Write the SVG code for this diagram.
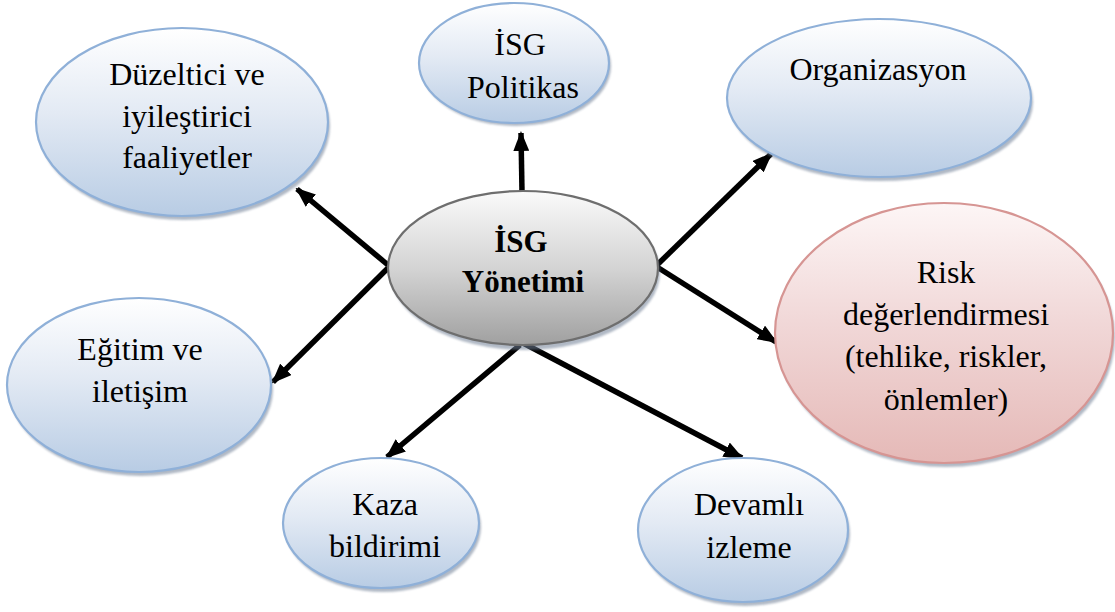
<svg xmlns="http://www.w3.org/2000/svg" width="1115" height="612" viewBox="0 0 1115 612">
  <defs>
    <linearGradient id="gBlue" x1="0" y1="0" x2="0" y2="1">
      <stop offset="0" stop-color="#ffffff"/>
      <stop offset="0.45" stop-color="#e3eaf4"/>
      <stop offset="1" stop-color="#b8cce4"/>
    </linearGradient>
    <linearGradient id="gRed" x1="0" y1="0" x2="0" y2="1">
      <stop offset="0" stop-color="#fdf6f6"/>
      <stop offset="0.45" stop-color="#f1d8d8"/>
      <stop offset="1" stop-color="#e5b9b7"/>
    </linearGradient>
    <linearGradient id="gGray" x1="0" y1="0" x2="0" y2="1">
      <stop offset="0" stop-color="#fafafa"/>
      <stop offset="0.5" stop-color="#d4d4d4"/>
      <stop offset="1" stop-color="#a0a0a0"/>
    </linearGradient>
    <filter id="soft" x="-10%" y="-10%" width="120%" height="130%">
      <feGaussianBlur stdDeviation="1.2"/>
    </filter>
    <marker id="head" viewBox="0 0 20 16" refX="18" refY="8" markerWidth="20" markerHeight="16" markerUnits="userSpaceOnUse" orient="auto">
      <path d="M0,0 L20,8 L0,16 Z" fill="#000"/>
    </marker>
    <style>
      .shadow { fill: #6f7f95; opacity: 0.55; filter: url(#soft); }
      .blue { fill: url(#gBlue); stroke: #8fb0d8; stroke-width: 2.2; }
      .red { fill: url(#gRed); stroke: #d69593; stroke-width: 2.2; }
      .gray { fill: url(#gGray); stroke: #6e6e6e; stroke-width: 2.2; }
      .lbl { font-family: "Liberation Serif", "Times New Roman", serif; font-size: 32px; fill: #000; text-anchor: middle; }
      .bold { font-weight: bold; font-size: 31px; }
      .conn line { stroke: #000; stroke-width: 5.5; marker-end: url(#head); }
    </style>
  </defs>

  <rect width="1115" height="612" fill="#ffffff"/>

  <!-- connectors from the central node -->
  <g id="connectors" class="conn">
    <line x1="522" y1="192" x2="521" y2="133"/>
    <line x1="388" y1="265" x2="297" y2="189"/>
    <line x1="388" y1="268" x2="273" y2="382"/>
    <line x1="657" y1="265" x2="771" y2="154"/>
    <line x1="657" y1="267" x2="776" y2="342"/>
    <line x1="523" y1="343" x2="742" y2="458"/>
    <line x1="520" y1="345" x2="387" y2="457"/>
  </g>

  <g id="node-center">
    <ellipse class="shadow" cx="525" cy="272" rx="135" ry="78"/>
    <ellipse class="gray" cx="523" cy="268" rx="135" ry="77"/>
    <text class="lbl bold" x="521" y="252">İSG</text>
    <text class="lbl bold" x="523" y="292">Yönetimi</text>
  </g>

  <g id="node-politika">
    <ellipse class="shadow" cx="516" cy="66" rx="95" ry="60"/>
    <ellipse class="blue" cx="514" cy="63" rx="95" ry="60"/>
    <text class="lbl" x="520" y="55">İSG</text>
    <text class="lbl" x="523" y="98">Politikas</text>
  </g>

  <g id="node-duzeltici">
    <ellipse class="shadow" cx="184" cy="126" rx="146" ry="94"/>
    <ellipse class="blue" cx="182" cy="122" rx="146" ry="94"/>
    <text class="lbl" x="187" y="85">Düzeltici ve</text>
    <text class="lbl" x="187" y="127">iyileştirici</text>
    <text class="lbl" x="187" y="168">faaliyetler</text>
  </g>

  <g id="node-organizasyon">
    <ellipse class="shadow" cx="881" cy="102" rx="152" ry="79"/>
    <ellipse class="blue" cx="879" cy="98" rx="152" ry="79"/>
    <text class="lbl" x="878" y="80">Organizasyon</text>
  </g>

  <g id="node-risk">
    <ellipse class="shadow" cx="946" cy="337" rx="169" ry="130"/>
    <ellipse class="red" cx="944" cy="333" rx="169" ry="130"/>
    <text class="lbl" x="946" y="283">Risk</text>
    <text class="lbl" x="946" y="325">değerlendirmesi</text>
    <text class="lbl" x="946" y="367">(tehlike, riskler,</text>
    <text class="lbl" x="946" y="410">önlemler)</text>
  </g>

  <g id="node-egitim">
    <ellipse class="shadow" cx="141" cy="389" rx="132" ry="87"/>
    <ellipse class="blue" cx="139" cy="385" rx="132" ry="87"/>
    <text class="lbl" x="140" y="360">Eğitim ve</text>
    <text class="lbl" x="140" y="402">iletişim</text>
  </g>

  <g id="node-kaza">
    <ellipse class="shadow" cx="383" cy="527" rx="98" ry="65"/>
    <ellipse class="blue" cx="381" cy="523" rx="98" ry="65"/>
    <text class="lbl" x="385" y="515">Kaza</text>
    <text class="lbl" x="385" y="557">bildirimi</text>
  </g>

  <g id="node-devamli">
    <ellipse class="shadow" cx="745" cy="534" rx="105" ry="72"/>
    <ellipse class="blue" cx="743" cy="530" rx="105" ry="72"/>
    <text class="lbl" x="749" y="515">Devamlı</text>
    <text class="lbl" x="749" y="558">izleme</text>
  </g>
</svg>
